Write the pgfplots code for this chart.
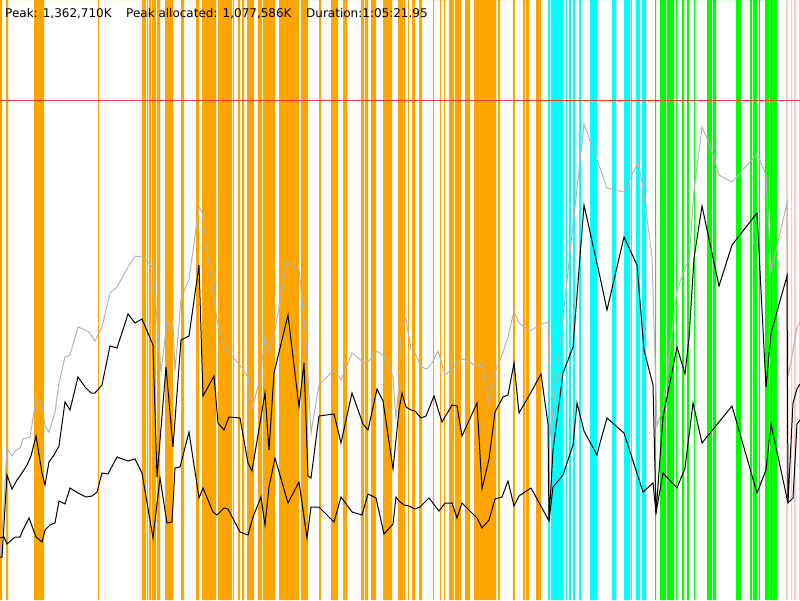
\documentclass[border=0pt]{standalone}
\usepackage{fontspec}
\setmainfont{DejaVu Sans}
\usepackage{pgfplots}
\pgfplotsset{compat=1.18}
\definecolor{org}{HTML}{FFA500}
\definecolor{cy}{HTML}{00FFFF}
\definecolor{gr}{HTML}{00FF00}
\definecolor{pk}{HTML}{FFC8D0}
\definecolor{rl}{HTML}{FF3A3A}
\definecolor{gl}{HTML}{B4B4B4}
\begin{document}
\begin{tikzpicture}
\begin{axis}[width=800pt,height=600pt,scale only axis,
  xmin=0,xmax=800,ymin=0,ymax=600,y dir=reverse,hide axis,
  anchor=south west, at={(0pt,0pt)}, clip=true]
% orange event bands
\addplot[ybar interval, fill=org, draw=none] coordinates {
(0,600)(2,0)(6,600)(8,0)(34,600)(44,0)(98,600)(99,0)(142,600)(146,0)(147,600)(148,0)
(149,600)(151,0)(152,600)(156,0)(157,600)(160,0)(165,600)(173,0)(181,600)(184,0)
(196,600)(199,0)(202,600)(216,0)(218,600)(232,0)(233,600)(234,0)(238,600)(240,0)
(242,600)(244,0)(247,600)(254,0)(258,600)(262,0)(263,600)(275,0)(279,600)(299,0)
(301,600)(308,0)(319,600)(321,0)(331,600)(338,0)(343,600)(347,0)(361,600)(364,0)
(365,600)(368,0)(371,600)(376,0)(383,600)(392,0)(398,600)(405,0)(408,600)(409,0)
(412,600)(415,0)(419,600)(422,0)(433,600)(434,0)(440,600)(441,0)(444,600)(445,0)
(449,600)(454,0)(455,600)(461,0)(465,600)(470,0)(474,600)(496,0)(498,600)(500,0)
(513,600)(515,0)(523,600)(525,0)(526,600)(529,0)(536,600)(541,0)};
% cyan event bands
\addplot[ybar interval, fill=cy, draw=none] coordinates {
(548,600)(550,0)(551,600)(563,0)(566,600)(567,0)(569,600)(571,0)(573,600)(575,0)
(579,600)(581,0)(590,600)(597,0)(612,600)(616,0)(624,600)(630,0)(631,600)(632,0)
(636,600)(640,0)(642,600)(646,0)};
% green event bands
\addplot[ybar interval, fill=gr, draw=none] coordinates {
(655,600)(656,0)(660,600)(666,0)(667,600)(674,0)(676,600)(677,0)(682,600)(684,0)
(687,600)(689,0)(694,600)(695,0)(707,600)(712,0)(713,600)(716,0)(736,600)(741,0)
(750,600)(752,0)(753,600)(757,0)(759,600)(760,0)(765,600)(769,0)(770,600)(777,0)};
% pink event bands
\addplot[ybar interval, fill=pk, draw=none] coordinates {
(786,600)(788,0)(791,600)(792,0)(794,600)(796,0)(799,600)(800,0)};
% red limit line
\addplot[rl, line width=1pt] coordinates {(0,100)(800,100)};
% gray peak line
\addplot[gl, line width=1pt] coordinates {
(0,557)(3,520)(7,448)(12,456)(16,450)(20,448)(23,439)(30,437)(36,399)(42,403)(45,426)
(49,432)(55,412)(59,383)(65,357)(70,355)(78,327)(83,329)(89,332)(95,341)(102,327)
(110,293)(117,287)(128,267)(135,256)(142,257)(147,261)(153,268)(161,372)(167,322)
(173,325)(175,371)(181,299)(189,279)(199,207)(202,212)(207,250)(217,320)(224,347)
(240,365)(248,377)(252,410)(260,378)(265,337)(269,353)(275,330)(287,262)(299,269)
(306,340)(311,433)(319,385)(334,370)(341,380)(352,353)(363,362)(368,362)(377,351)
(384,356)(393,377)(396,419)(399,383)(400,350)(402,325)(406,319)(411,349)(415,353)
(421,367)(427,369)(432,363)(438,351)(445,375)(453,368)(462,359)(468,361)(477,367)
(482,363)(489,404)(495,372)(502,355)(508,337)(514,311)(519,323)(530,331)(542,324)
(548,322)(550,437)(584,124)(600,168)(607,188)(624,192)(638,162)(643,187)(652,257)
(657,426)(663,407)(677,290)(687,263)(689,262)(694,190)(702,127)(710,145)(719,175)
(732,182)(757,154)(766,175)(771,272)(787,203)(788,377)(797,328)(800,322)};
% black upper line
\addplot[black, line width=1pt] coordinates {
(0,557)(2,557)(7,475)(12,489)(17,480)(22,473)(27,465)(31,456)(36,436)(42,473)(45,485)
(49,462)(54,455)(59,446)(65,402)(70,410)(78,377)(85,387)(91,393)(95,393)(102,385)
(110,346)(117,348)(128,314)(135,323)(142,319)(153,345)(157,477)(166,367)(173,447)
(181,340)(189,336)(199,265)(203,396)(214,376)(218,423)(224,430)(229,417)(240,418)
(248,463)(252,471)(265,393)(269,450)(274,373)(288,315)(299,407)(304,363)(308,476)
(311,478)(319,416)(334,414)(341,443)(352,393)(363,424)(368,430)(377,389)(383,401)
(393,469)(399,410)(402,393)(406,407)(411,410)(415,411)(421,418)(426,416)(434,396)
(442,422)(452,405)(457,406)(462,436)(477,403)(482,489)(489,459)(495,412)(503,397)
(508,395)(514,363)(519,413)(530,394)(541,374)(548,424)(549,521)(553,450)(563,373)
(573,347)(584,205)(600,277)(607,310)(624,237)(637,265)(644,350)(653,385)(656,513)
(663,417)(677,347)(685,374)(689,338)(694,258)(702,206)(719,286)(732,245)(757,213)
(766,387)(771,333)(787,276)(788,503)(793,403)(797,389)(800,384)};
% black lower line
\addplot[black, line width=1pt] coordinates {
(0,538)(4,537)(7,544)(15,537)(20,537)(23,530)(29,518)(36,537)(42,542)(45,530)(50,525)
(55,523)(59,501)(65,504)(70,488)(78,493)(86,497)(92,496)(97,492)(102,473)(108,474)
(117,457)(128,461)(135,459)(142,473)(153,538)(160,478)(167,523)(172,522)(175,468)
(180,467)(189,432)(199,498)(203,488)(213,512)(217,515)(224,508)(228,509)(240,532)
(248,535)(253,517)(261,497)(265,525)(269,487)(275,458)(288,503)(299,482)(307,538)
(311,507)(319,507)(334,522)(341,497)(352,512)(362,515)(368,494)(376,498)(384,534)
(393,524)(396,497)(399,501)(404,505)(409,506)(415,509)(420,507)(429,498)(439,511)
(445,503)(452,503)(457,518)(462,503)(470,511)(477,518)(482,528)(489,520)(495,499)
(502,497)(508,481)(514,506)(519,496)(531,488)(542,508)(549,521)(553,487)(563,475)
(573,445)(577,403)(584,431)(597,455)(600,443)(607,418)(624,433)(643,492)(653,483)
(656,513)(663,473)(677,488)(685,468)(693,403)(702,443)(732,406)(757,493)(766,470)
(771,424)(788,503)(793,498)(797,424)(800,420)};
\node[anchor=base west, inner sep=0pt, font=\fontsize{12pt}{14pt}\selectfont] at (axis cs:5,17) {Peak: 1,362,710K};
\node[anchor=base west, inner sep=0pt, font=\fontsize{12pt}{14pt}\selectfont] at (axis cs:126,17) {Peak allocated: 1,077,586K};
\node[anchor=base west, inner sep=0pt, font=\fontsize{12pt}{14pt}\selectfont] at (axis cs:306,17) {Duration:1:05:21.95};
\end{axis}
\pgfresetboundingbox
\path[use as bounding box] (0pt,0pt) rectangle (800pt,600pt);
\end{tikzpicture}
\end{document}
